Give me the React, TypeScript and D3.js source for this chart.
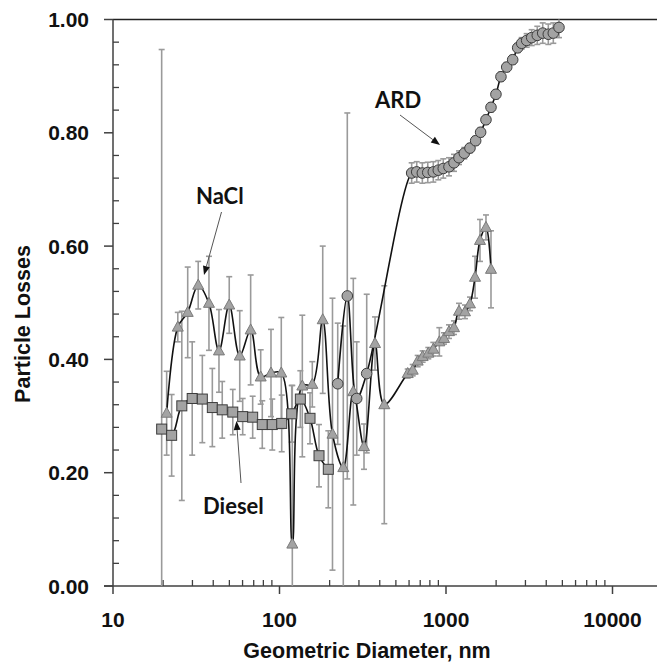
import React from "react";
import * as d3 from "d3";

// ---- data ----
const dieselD = [19.6, 22.5, 25.9, 29.9, 34.4, 39.5, 45.3, 52.4, 60.1, 69.0, 78.8, 90.5, 103.1, 118.4, 133.4, 152.5, 172.7, 196.4];
const dieselLoss = [0.277, 0.266, 0.318, 0.331, 0.33, 0.315, 0.311, 0.307, 0.299, 0.298, 0.285, 0.285, 0.287, 0.304, 0.33, 0.296, 0.23, 0.206];
const dieselErr = [0.67, 0.072, 0.167, 0.1, 0.077, 0.069, 0.05, 0.04, 0.032, 0.037, 0.042, 0.045, 0.05, 0.05, 0.05, 0.045, 0.055, 0.068];

const naclD = [21.0, 24.5, 28.1, 32.5, 37.7, 43.3, 49.9, 57.7, 67.1, 77.1, 88.9, 102.5, 119.4, 137.1, 157.4, 181.8, 208.1, 241.6, 277.5, 321.8, 374.7, 426.0,
  588.8, 631, 676, 724, 783, 839, 912, 973, 1042, 1117, 1197, 1300, 1393, 1494, 1600, 1738, 1863];
const naclLoss = [0.305, 0.457, 0.483, 0.531, 0.499, 0.415, 0.496, 0.406, 0.452, 0.369, 0.376, 0.376, 0.074, 0.353, 0.356, 0.47, 0.268, 0.209, 0.343, 0.246, 0.428, 0.32,
  0.375, 0.381, 0.397, 0.405, 0.411, 0.418, 0.431, 0.437, 0.449, 0.456, 0.485, 0.484, 0.498, 0.545, 0.61, 0.633, 0.559];
const naclErr = [0.074, 0.026, 0.08, 0.042, 0.083, 0.073, 0.05, 0.08, 0.097, 0.048, 0.077, 0.098, 0.28, 0.125, 0.04, 0.13, 0.24, 0.25, 0.2, 0.04, 0.047, 0.21,
  0.008, 0.01, 0.01, 0.01, 0.01, 0.012, 0.025, 0.01, 0.012, 0.012, 0.014, 0.012, 0.012, 0.037, 0.037, 0.022, 0.068];

const ardD = [223.7, 255.4, 290.9, 334, 622, 667, 721, 777, 839, 899, 963, 1042, 1117, 1197, 1288, 1393, 1507, 1614, 1738, 1863, 1995, 2138, 2316, 2515,
  2695, 2849, 3052, 3271, 3534, 3809, 4116, 4410, 4771];
const ardLoss = [0.357, 0.512, 0.331, 0.375, 0.729, 0.731, 0.729, 0.73, 0.731, 0.734, 0.737, 0.74, 0.747, 0.756, 0.764, 0.773, 0.786, 0.801, 0.823, 0.845,
  0.868, 0.899, 0.916, 0.929, 0.95, 0.958, 0.963, 0.968, 0.972, 0.976, 0.974, 0.976, 0.986];
const ardErr = [0.107, 0.323, 0.1, 0.14, 0.018, 0.018, 0.018, 0.018, 0.018, 0.017, 0.017, 0.016, 0.015, 0.012, 0.01, 0.008, 0.008, 0.008, 0.008, 0.008,
  0.008, 0.008, 0.008, 0.008, 0.008, 0.01, 0.012, 0.014, 0.016, 0.018, 0.018, 0.018, 0.018];

const xMajor = [10, 100, 1000, 10000];
const yMajor = [0, 0.2, 0.4, 0.6, 0.8, 1.0];

const W = 657;
const H = 665;
const L = 113;
const T = 19.5;
const B = 586;

const x = d3.scaleLog().domain([10, 20000]).range([L, L + 166.5 * Math.log10(2000)]);
const y = d3.scaleLinear().domain([0, 1]).range([B, T]);

type P = { d: number; v: number; e: number };
const mk = (d: number[], v: number[], e: number[]): P[] => d.map((dd, i) => ({ d: dd, v: v[i], e: e[i] }));
const diesel = mk(dieselD, dieselLoss, dieselErr);
const nacl = mk(naclD, naclLoss, naclErr);
const ard = mk(ardD, ardLoss, ardErr);

const line = d3
  .line<P>()
  .x((p) => x(p.d))
  .y((p) => y(p.v))
  .curve(d3.curveCatmullRom.alpha(0.5));

const FILL = "#a3a3a3";
const MSTROKE = "#3c3c3c";
const ERR = "#9a9a9a";
const AX = "#404040";

function ErrBars({ data }: { data: P[] }) {
  return (
    <g stroke={ERR} strokeWidth={1.6} fill="none">
      {data.map((p, i) => {
        const cx = x(p.d);
        const y1 = y(Math.min(1, p.v + p.e));
        const y0 = y(Math.max(0, p.v - p.e));
        return (
          <g key={i}>
            <line x1={cx} x2={cx} y1={y1} y2={y0} />
            {p.v + p.e <= 1 && <line x1={cx - 3} x2={cx + 3} y1={y1} y2={y1} />}
            {p.v - p.e >= 0 && <line x1={cx - 3} x2={cx + 3} y1={y0} y2={y0} />}
          </g>
        );
      })}
    </g>
  );
}

function Arrow({ x1, y1, x2, y2 }: { x1: number; y1: number; x2: number; y2: number }) {
  const ang = Math.atan2(y2 - y1, x2 - x1);
  const len = 9;
  const w = 3.5;
  const bx = x2 - len * Math.cos(ang);
  const by = y2 - len * Math.sin(ang);
  const px = -Math.sin(ang) * w;
  const py = Math.cos(ang) * w;
  return (
    <g>
      <line x1={x1} y1={y1} x2={bx} y2={by} stroke="#555" strokeWidth={1} />
      <polygon points={`${x2},${y2} ${bx + px},${by + py} ${bx - px},${by - py}`} fill="#111" />
    </g>
  );
}

export default function App() {
  const xMinor: number[] = [];
  for (let dec = 10; dec <= 10000; dec *= 10) {
    for (let k = 2; k <= 9; k++) {
      const v = dec * k;
      if (x(v) <= W) xMinor.push(v);
    }
  }
  const yMinor: number[] = d3.range(0, 1.0001, 0.04).filter((v) => Math.abs(v * 5 - Math.round(v * 5)) > 1e-6);
  const tickFont = "'Liberation Sans', Arial, sans-serif";
  const annFont = "Lato, 'Open Sans', sans-serif";

  return (
    <svg width={W} height={H} style={{ position: "absolute", left: 0, top: 0, background: "#fff" }}>
      <rect x={0} y={0} width={W} height={H} fill="#fff" />
      {/* frame */}
      <line x1={L} x2={W} y1={T} y2={T} stroke="#222" strokeWidth={1.5} />
      <line x1={L} x2={L} y1={T} y2={B} stroke={AX} strokeWidth={1.5} />
      <line x1={L - 9} x2={W} y1={B} y2={B} stroke={AX} strokeWidth={1.5} />
      {/* y ticks */}
      {yMajor.map((v) => (
        <g key={v}>
          <line x1={L - 9} x2={L} y1={y(v)} y2={y(v)} stroke={AX} strokeWidth={1.5} />
          <text x={89} y={y(v) + 7.5} textAnchor="end" fontFamily={tickFont} fontWeight="bold" fontSize={21} fill="#111">
            {v.toFixed(2)}
          </text>
        </g>
      ))}
      {yMinor.map((v) => (
        <line key={v} x1={L} x2={L + 6} y1={y(v)} y2={y(v)} stroke={AX} strokeWidth={1.3} />
      ))}
      {/* x ticks */}
      {xMajor.map((v) => (
        <g key={v}>
          <line x1={x(v)} x2={x(v)} y1={B} y2={B + 8} stroke={AX} strokeWidth={1.5} />
          <text x={x(v)} y={627} textAnchor="middle" fontFamily={tickFont} fontWeight="bold" fontSize={21} fill="#111">
            {v}
          </text>
        </g>
      ))}
      {xMinor.map((v) => (
        <line key={v} x1={x(v)} x2={x(v)} y1={B} y2={B - 6} stroke={AX} strokeWidth={1.3} />
      ))}
      {/* axis titles */}
      <text x={367} y={658} textAnchor="middle" fontFamily={tickFont} fontWeight="bold" fontSize={21.5} fill="#111">
        Geometric Diameter, nm
      </text>
      <text
        transform={`translate(30, 324) rotate(-90)`}
        textAnchor="middle"
        fontFamily={tickFont}
        fontWeight="bold"
        fontSize={21.5}
        fill="#111"
      >
        Particle Losses
      </text>

      {/* error bars */}
      <ErrBars data={diesel} />
      <ErrBars data={nacl} />
      <ErrBars data={ard} />

      {/* lines */}
      <path d={line(diesel) || ""} fill="none" stroke="#111" strokeWidth={1.6} />
      <path d={line(nacl) || ""} fill="none" stroke="#111" strokeWidth={1.6} />
      <path d={line(ard) || ""} fill="none" stroke="#111" strokeWidth={1.6} />

      {/* markers */}
      <g fill={FILL} stroke={MSTROKE} strokeWidth={1}>
        {diesel.map((p, i) => (
          <rect key={i} x={x(p.d) - 5} y={y(p.v) - 5} width={10} height={10} />
        ))}
        {nacl.map((p, i) => {
          const cx = x(p.d);
          const cy = y(p.v);
          return <polygon key={i} points={`${cx},${cy - 6} ${cx + 5.5},${cy + 4} ${cx - 5.5},${cy + 4}`} stroke="#7a7a7a" />;
        })}
        {ard.map((p, i) => (
          <circle key={i} cx={x(p.d)} cy={y(p.v)} r={5.3} />
        ))}
      </g>

      {/* annotations */}
      <text x={196} y={203.5} fontFamily={annFont} fontWeight="bold" fontSize={22} fill="#111">
        NaCl
      </text>
      <Arrow x1={221.5} y1={212} x2={204} y2={275} />
      <text x={203} y={513.5} fontFamily={annFont} fontWeight="bold" fontSize={22} fill="#111">
        Diesel
      </text>
      <Arrow x1={241} y1={483} x2={236.5} y2={421} />
      <text x={375} y={107.5} fontFamily={annFont} fontWeight="bold" fontSize={22} fill="#111">
        ARD
      </text>
      <Arrow x1={400} y1={115} x2={440} y2={145} />
    </svg>
  );
}
